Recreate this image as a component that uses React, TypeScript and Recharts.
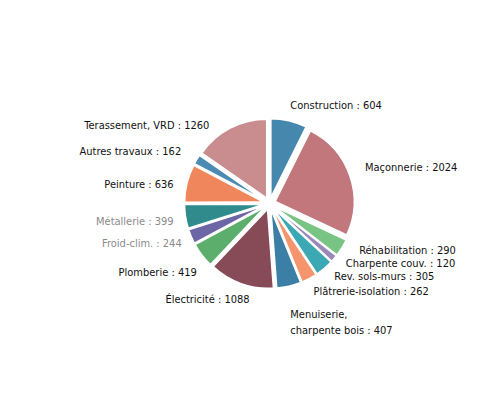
import React from "react";
import { PieChart, Pie, Cell, Sector } from "recharts";

const categories = [
  "Construction",
  "Maçonnerie",
  "Réhabilitation",
  "Charpente couv.",
  "Rev. sols-murs",
  "Plâtrerie-isolation",
  "Menuiserie, charpente bois",
  "Électricité",
  "Plomberie",
  "Froid-clim.",
  "Métallerie",
  "Peinture",
  "Autres travaux",
  "Terassement, VRD",
];
const values = [604, 2024, 290, 120, 305, 262, 407, 1088, 419, 244, 399, 636, 162, 1260];
const colors = [
  "#4587ad", "#c2777d", "#78c482", "#9a88b8", "#3ca8b4", "#f4956e", "#3b7fa6",
  "#864b57", "#5cae6c", "#6c66a6", "#2f8b8c", "#f0875c", "#4a8ab3", "#c98c8f",
];
const labelColors = [
  "#111", "#111", "#111", "#111", "#111", "#111", "#111",
  "#111", "#111", "#8a8a8a", "#8a8a8a", "#111", "#111", "#111",
];
// label nudges (dx, dy) relative to the natural polar label position
const labelNudge: [number, number][] = [
  [0, -9], [9.5, -6], [12, -0.5], [7, 0.5], [6, 4], [1.5, 8], [0, 22],
  [10.5, 10], [-0.5, 14], [-4, 4.5], [-6, 3.5], [-7.5, 2.5], [-10.5, -5], [-18, 3],
];

const data = categories.map((name, i) => ({ name, value: values[i] }));

const RAD = Math.PI / 180;
const EXPLODE = 6;

const ExplodedSector = (props: any) => {
  const { cx, cy, midAngle } = props;
  const dx = EXPLODE * Math.cos(midAngle * RAD);
  const dy = -EXPLODE * Math.sin(midAngle * RAD);
  return <Sector {...props} cx={cx + dx} cy={cy + dy} stroke="#fff" strokeWidth={1.5} />;
};

const FONT = "'DejaVu Sans Condensed', 'Liberation Sans Narrow', 'Liberation Sans', sans-serif";

const renderLabel = (props: any) => {
  const { cx, cy, midAngle, outerRadius, index, name, value } = props;
  const r = outerRadius + 12;
  const cos = Math.cos(midAngle * RAD);
  const sin = Math.sin(midAngle * RAD);
  const [nx, ny] = labelNudge[index];
  const x = cx + r * cos + nx;
  const y = cy - r * sin + ny;
  const anchor = cos >= 0 ? "start" : "end";
  const common = {
    fontFamily: FONT,
    fontSize: 11,
    fill: labelColors[index],
    textAnchor: anchor as any,
    dominantBaseline: "central" as any,
  };
  if (name.startsWith("Menuiserie")) {
    const parts = name.split(", ");
    return (
      <text x={x} y={y} {...common}>
        <tspan x={x} dy={0}>{parts[0] + ","}</tspan>
        <tspan x={x} dy={16}>{parts[1] + " : " + value}</tspan>
      </text>
    );
  }
  return (
    <text x={x} y={y} {...common}>
      {name + " : " + value}
    </text>
  );
};

export default function App() {
  return (
    <div style={{ width: 484, height: 410, background: "#fff" }}>
      <PieChart width={484} height={410}>
        <Pie
          data={data}
          dataKey="value"
          nameKey="name"
          cx={256.5}
          cy={190.5}
          outerRadius={79}
          innerRadius={0}
          startAngle={90}
          endAngle={-270}
          shape={ExplodedSector}
          label={renderLabel}
          labelLine={false}
          isAnimationActive={false}
        >
          {data.map((d, i) => (
            <Cell key={d.name} fill={colors[i]} />
          ))}
        </Pie>
      </PieChart>
    </div>
  );
}
